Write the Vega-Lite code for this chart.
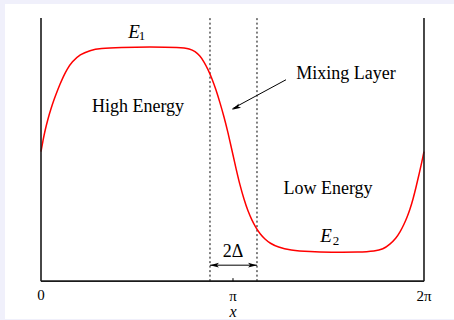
{
  "$schema": "https://vega.github.io/schema/vega-lite/v6.json",
  "width": 454,
  "height": 320,
  "autosize": {"type": "fit", "contains": "padding"},
  "padding": {"left": 5, "top": 4, "right": 0, "bottom": 0},
  "background": "#f0f0fb",
  "config": {"view": {"fill": "white", "stroke": null}, "text": {"font": "Liberation Serif"}},
  "datasets": {
    "curve": [
      {"x": 0, "y": 0.4924}, {"x": 0.0104, "y": 0.5341}, {"x": 0.0209, "y": 0.5720}, {"x": 0.0366, "y": 0.6174},
      {"x": 0.0522, "y": 0.6553}, {"x": 0.0679, "y": 0.6894}, {"x": 0.0836, "y": 0.7197}, {"x": 0.0992, "y": 0.7481},
      {"x": 0.1149, "y": 0.7746}, {"x": 0.1358, "y": 0.8049}, {"x": 0.1619, "y": 0.8333}, {"x": 0.2037, "y": 0.8617},
      {"x": 0.2559, "y": 0.8769}, {"x": 0.3081, "y": 0.8845}, {"x": 0.4125, "y": 0.888}, {"x": 0.5692, "y": 0.890},
      {"x": 0.7258, "y": 0.888}, {"x": 0.7781, "y": 0.8826}, {"x": 0.8042, "y": 0.8731}, {"x": 0.8303, "y": 0.8561},
      {"x": 0.8512, "y": 0.8333}, {"x": 0.8721, "y": 0.8049}, {"x": 0.8930, "y": 0.7689}, {"x": 0.9138, "y": 0.7273},
      {"x": 0.9347, "y": 0.6780}, {"x": 0.9556, "y": 0.6250}, {"x": 0.9765, "y": 0.5644}, {"x": 0.9974, "y": 0.4962},
      {"x": 1.0183, "y": 0.4280}, {"x": 1.0392, "y": 0.3636}, {"x": 1.0601, "y": 0.3106}, {"x": 1.0809, "y": 0.2652},
      {"x": 1.1018, "y": 0.2311}, {"x": 1.1227, "y": 0.2027}, {"x": 1.1436, "y": 0.1799}, {"x": 1.1697, "y": 0.1591},
      {"x": 1.1958, "y": 0.1439}, {"x": 1.2376, "y": 0.1288}, {"x": 1.3003, "y": 0.1174}, {"x": 1.4047, "y": 0.1117},
      {"x": 1.5091, "y": 0.1098}, {"x": 1.6658, "y": 0.1098},
      {"x": 1.7441, "y": 0.114}, {"x": 1.7859, "y": 0.121}, {"x": 1.8225, "y": 0.140}, {"x": 1.8538, "y": 0.163},
      {"x": 1.8747, "y": 0.186}, {"x": 1.8956, "y": 0.216}, {"x": 1.9112, "y": 0.242}, {"x": 1.9269, "y": 0.273},
      {"x": 1.9426, "y": 0.311}, {"x": 1.9582, "y": 0.356}, {"x": 1.9739, "y": 0.405}, {"x": 1.9896, "y": 0.455},
      {"x": 2.0, "y": 0.4924}
    ],
    "frame": [
      {"x": 0, "y": 0, "x2": 0, "y2": 1},
      {"x": 2, "y": 0, "x2": 2, "y2": 1},
      {"x": 0, "y": 0, "x2": 2, "y2": 0}
    ],
    "thin": [
      {"x": 1.0026, "y": 0, "x2": 1.0026, "y2": 0.0114},
      {"x": 1.2794, "y": 0.7652, "x2": 1.0, "y2": 0.6553},
      {"x": 0.8825, "y": 0.0606, "x2": 1.1279, "y2": 0.0606}
    ],
    "dashed": [
      {"x": 0.8825, "y": 0, "x2": 0.8825, "y2": 1},
      {"x": 1.1279, "y": 0, "x2": 1.1279, "y2": 1}
    ],
    "heads": [
      {"x": 0.9974, "y": 0.6515, "angle": 243},
      {"x": 0.8825, "y": 0.0606, "angle": 270},
      {"x": 1.1279, "y": 0.0606, "angle": 90}
    ],
    "bigtext": [
      {"x": 0.5065, "y": 0.6629, "text": "High Energy"},
      {"x": 1.5927, "y": 0.7879, "text": "Mixing Layer"},
      {"x": 1.4987, "y": 0.3485, "text": "Low Energy"},
      {"x": 1.0026, "y": 0.1098, "text": "2Δ"}
    ],
    "ticklabels": [
      {"x": 0, "y": -0.053, "text": "0"},
      {"x": 1.0026, "y": -0.0568, "text": "π"},
      {"x": 2.0, "y": -0.057, "text": "2π"}
    ],
    "elabels": [
      {"x": 0.4856, "y": 0.924, "text": "E"},
      {"x": 1.4883, "y": 0.1477, "text": "E"}
    ],
    "xlabel": [
      {"x": 1.0026, "y": -0.1364, "text": "x"}
    ],
    "subs": [
      {"x": 0.5274, "y": 0.918, "text": "1"},
      {"x": 1.540, "y": 0.1385, "text": "2"}
    ]
  },
  "layer": [
    {
      "data": {"name": "dashed"},
      "mark": {"type": "rule", "color": "black", "strokeWidth": 1, "strokeDash": [2, 2.5]},
      "encoding": {
        "x": {"field": "x", "type": "quantitative", "scale": {"domain": [-0.188, 2.1567], "nice": false, "zero": false}, "axis": null},
        "y": {"field": "y", "type": "quantitative", "scale": {"domain": [-0.1439, 1.053], "nice": false, "zero": false}, "axis": null},
        "x2": {"field": "x2"},
        "y2": {"field": "y2"}
      }
    },
    {
      "data": {"name": "curve"},
      "mark": {"type": "line", "color": "#ff0000", "strokeWidth": 1.5, "interpolate": "basis"},
      "encoding": {
        "x": {"field": "x", "type": "quantitative"},
        "y": {"field": "y", "type": "quantitative"}
      }
    },
    {
      "data": {"name": "frame"},
      "mark": {"type": "rule", "color": "#1a1a1a", "strokeWidth": 1.6},
      "encoding": {
        "x": {"field": "x", "type": "quantitative"},
        "y": {"field": "y", "type": "quantitative"},
        "x2": {"field": "x2"},
        "y2": {"field": "y2"}
      }
    },
    {
      "data": {"name": "thin"},
      "mark": {"type": "rule", "color": "black", "strokeWidth": 1},
      "encoding": {
        "x": {"field": "x", "type": "quantitative"},
        "y": {"field": "y", "type": "quantitative"},
        "x2": {"field": "x2"},
        "y2": {"field": "y2"}
      }
    },
    {
      "data": {"name": "heads"},
      "mark": {"type": "point", "shape": "M0,0 L-0.45,1.7 L0,1.3 L0.45,1.7 Z", "filled": true, "color": "black", "size": 110, "opacity": 1},
      "encoding": {
        "x": {"field": "x", "type": "quantitative"},
        "y": {"field": "y", "type": "quantitative"},
        "angle": {"field": "angle", "type": "quantitative", "scale": null}
      }
    },
    {
      "data": {"name": "bigtext"},
      "mark": {"type": "text", "font": "Liberation Serif", "fontSize": 18, "color": "black", "align": "center", "baseline": "middle"},
      "encoding": {
        "x": {"field": "x", "type": "quantitative"},
        "y": {"field": "y", "type": "quantitative"},
        "text": {"field": "text"}
      }
    },
    {
      "data": {"name": "ticklabels"},
      "mark": {"type": "text", "font": "Liberation Serif", "fontSize": 15, "color": "black", "align": "center", "baseline": "middle"},
      "encoding": {
        "x": {"field": "x", "type": "quantitative"},
        "y": {"field": "y", "type": "quantitative"},
        "text": {"field": "text"}
      }
    },
    {
      "data": {"name": "elabels"},
      "mark": {"type": "text", "font": "Liberation Serif", "fontSize": 19, "fontStyle": "italic", "color": "black", "align": "center", "baseline": "alphabetic"},
      "encoding": {
        "x": {"field": "x", "type": "quantitative"},
        "y": {"field": "y", "type": "quantitative"},
        "text": {"field": "text"}
      }
    },
    {
      "data": {"name": "xlabel"},
      "mark": {"type": "text", "font": "Liberation Serif", "fontSize": 16, "fontStyle": "italic", "color": "black", "align": "center", "baseline": "alphabetic"},
      "encoding": {
        "x": {"field": "x", "type": "quantitative"},
        "y": {"field": "y", "type": "quantitative"},
        "text": {"field": "text"}
      }
    },
    {
      "data": {"name": "subs"},
      "mark": {"type": "text", "font": "Liberation Serif", "fontSize": 13, "color": "black", "align": "center", "baseline": "alphabetic"},
      "encoding": {
        "x": {"field": "x", "type": "quantitative"},
        "y": {"field": "y", "type": "quantitative"},
        "text": {"field": "text"}
      }
    }
  ]
}
